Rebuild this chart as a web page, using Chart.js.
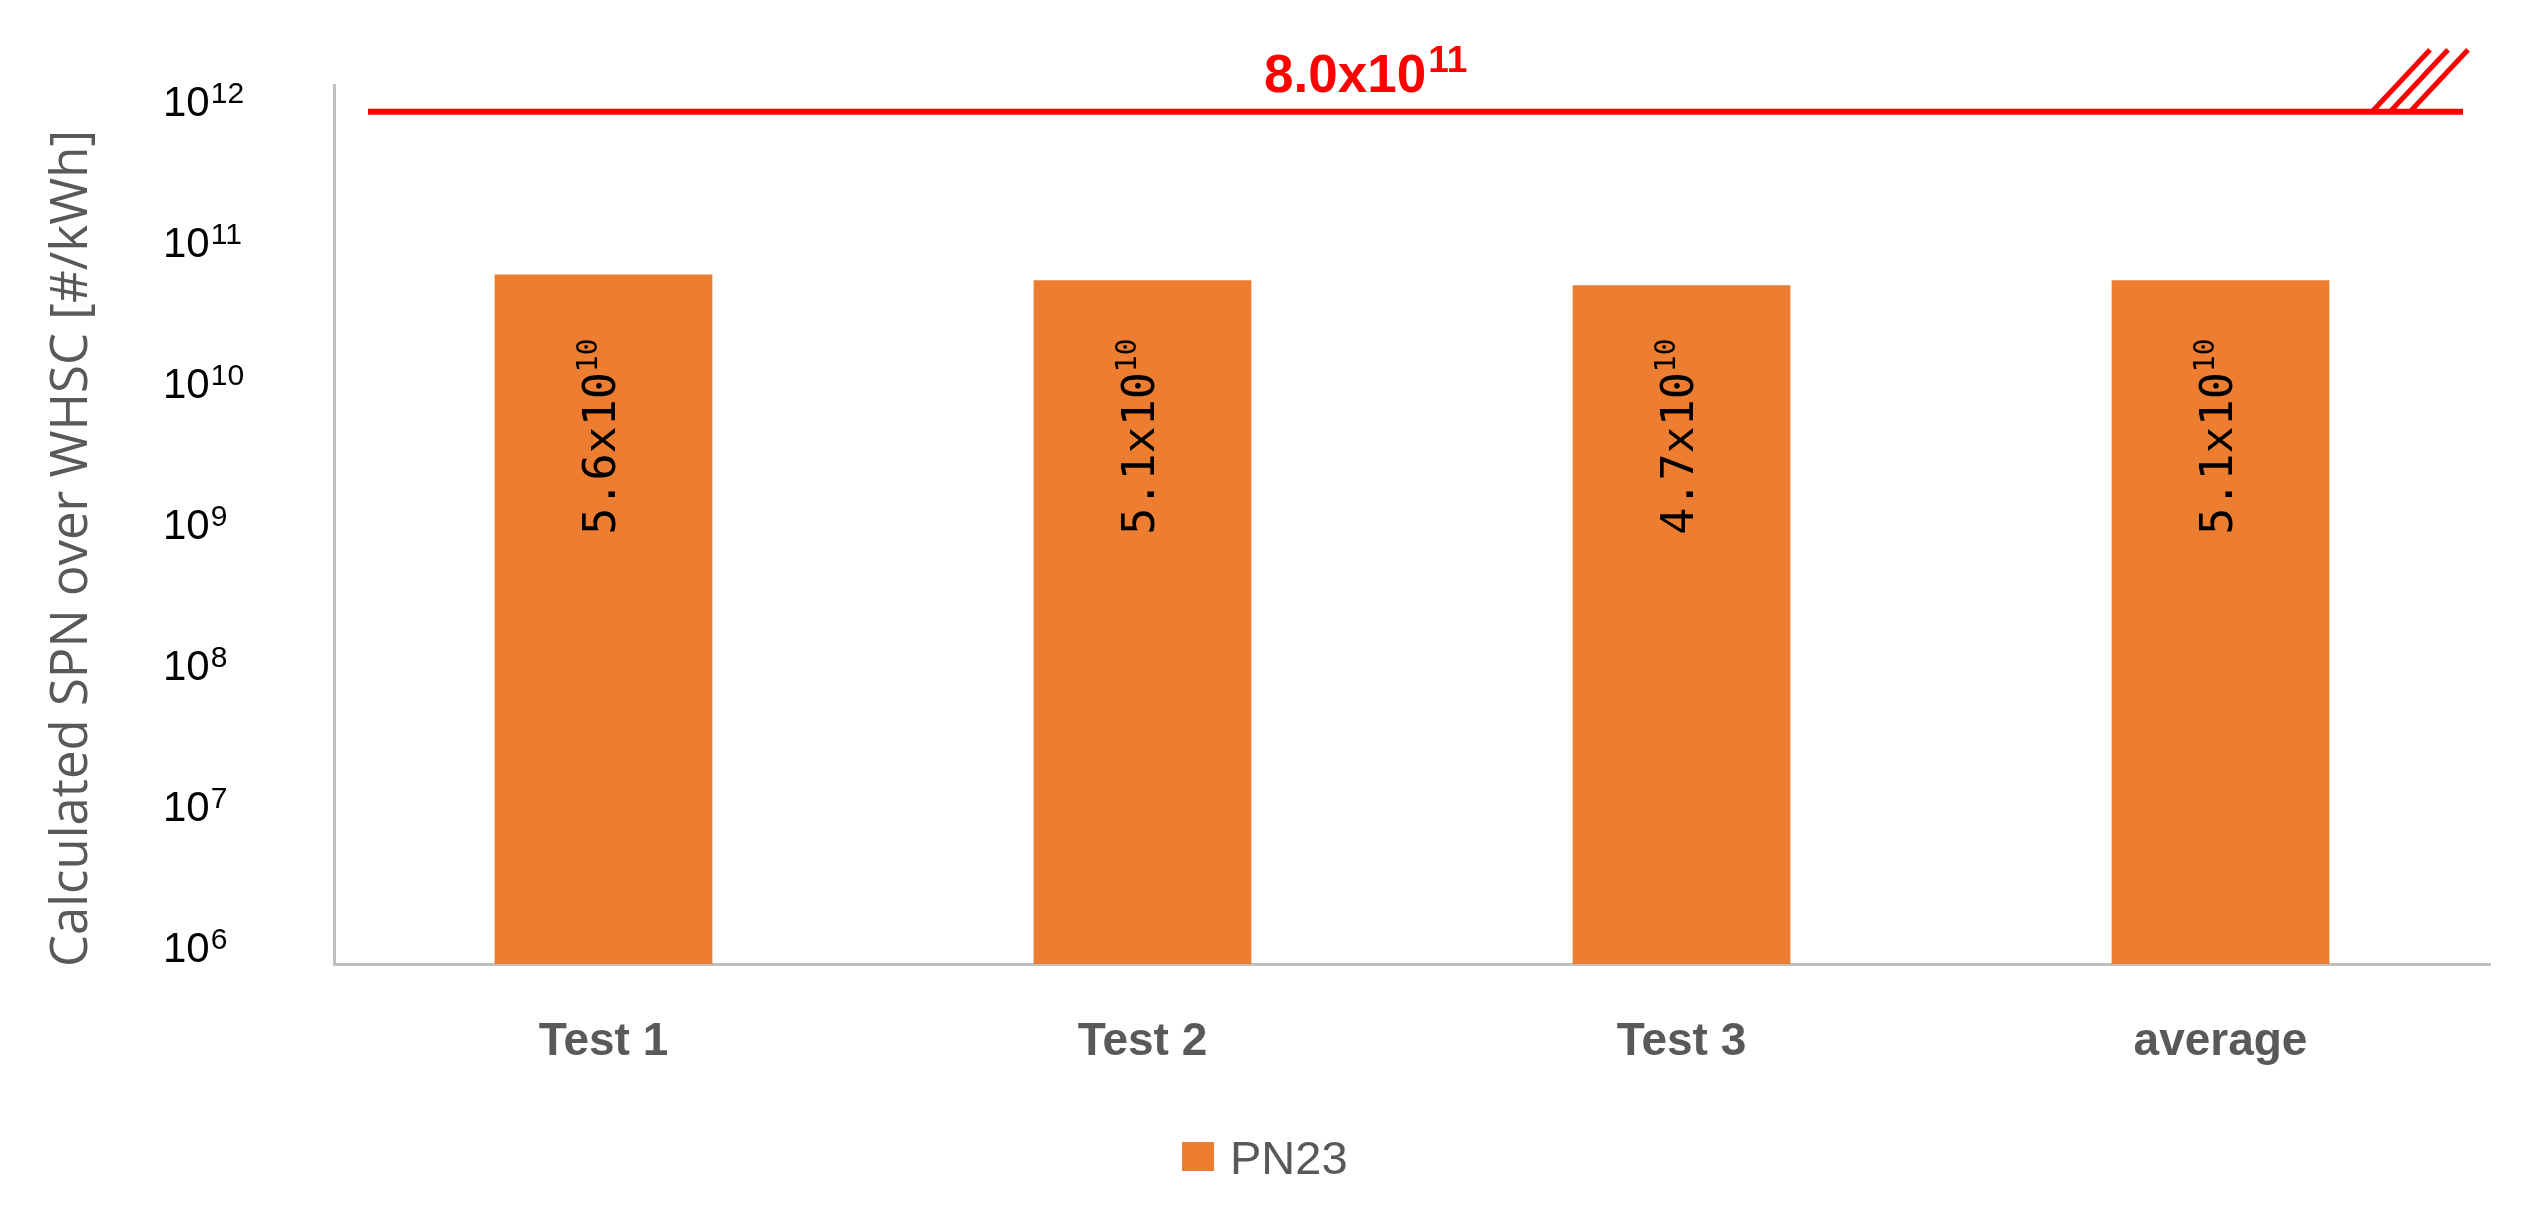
<!DOCTYPE html>
<html>
<head>
<meta charset="utf-8">
<script src="https://cdn.jsdelivr.net/npm/chart.js@4.4.0/dist/chart.umd.min.js"></script>
<style>
  html, body { margin: 0; padding: 0; background: #ffffff; }
  #wrap { width: 2548px; height: 1228px; }
  canvas { display: block; }
</style>
</head>
<body>
<div id="wrap"><canvas id="c" width="2548" height="1228"></canvas></div>
<script>
// ---- data ----
const categories = ['Test 1', 'Test 2', 'Test 3', 'average'];
const seriesName = 'PN23';
const pn23Values = [5.6e10, 5.1e10, 4.7e10, 5.1e10];
const limitValue = 8.0e11;
const yTickExponents = [6, 7, 8, 9, 10, 11, 12];
const yAxisMin = 7.2e5;
const yAxisMax = 1.24e12;
const yAxisTitle = 'Calculated SPN over WHSC [#/kWh]';

// ---- style ----
const barColor = '#ED7D31';
const axisColor = '#BFBFBF';
const textGray = '#595959';
const red = '#FF0000';

function splitExp(v) {
  const [m, e] = v.toExponential(1).split('e');
  return { mant: m, exp: String(parseInt(e, 10)) };
}

const overlay = {
  id: 'overlay',
  afterDraw(chart) {
    const ctx = chart.ctx;
    const ca = chart.chartArea;
    const xs = chart.scales.x;
    const ys = chart.scales.y;
    ctx.save();

    // y tick labels 10^n
    yTickExponents.forEach(e => {
      const y = ys.getPixelForValue(Math.pow(10, e));
      ctx.fillStyle = '#000000';
      ctx.textBaseline = 'alphabetic';
      ctx.textAlign = 'left';
      ctx.font = '42px "Liberation Sans"';
      const base = y + 18;
      ctx.fillText('10', 163, base);
      const w = ctx.measureText('10').width;
      ctx.font = '30px "Liberation Sans"';
      ctx.fillText(String(e), 163 + w + 1, base - 13);
    });

    // y axis title
    ctx.save();
    ctx.translate(87, (ca.top + ca.bottom) / 2 + 24);
    ctx.rotate(-Math.PI / 2);
    ctx.fillStyle = textGray;
    ctx.textAlign = 'center';
    ctx.textBaseline = 'alphabetic';
    ctx.font = '48px "Open Sans"';
    const tw = ctx.measureText(yAxisTitle).width;
    const target = 837;
    const fs = 48 * target / tw;
    ctx.font = fs.toFixed(1) + 'px "Open Sans"';
    ctx.fillText(yAxisTitle, 0, 0);
    ctx.restore();

    // x category labels
    ctx.fillStyle = textGray;
    ctx.font = 'bold 46px "Liberation Sans"';
    ctx.textAlign = 'center';
    ctx.textBaseline = 'alphabetic';
    categories.forEach((c, i) => {
      ctx.fillText(c, xs.getPixelForValue(i), 1055);
    });

    // value labels inside bars (rotated)
    const meta = chart.getDatasetMeta(0);
    pn23Values.forEach((v, i) => {
      const bar = meta.data[i];
      const { mant, exp } = splitExp(v);
      const main = mant + 'x10';
      ctx.save();
      ctx.translate(bar.x + 11, ca.top + (ca.bottom - ca.top) * 0.4);
      ctx.rotate(-Math.PI / 2);
      ctx.fillStyle = '#000000';
      ctx.textBaseline = 'alphabetic';
      ctx.textAlign = 'left';
      ctx.font = '45px "DejaVu Sans Mono"';
      const wm = ctx.measureText(main).width;
      ctx.font = '28px "DejaVu Sans Mono"';
      const we = ctx.measureText(exp).width;
      const total = wm + we;
      ctx.font = '45px "DejaVu Sans Mono"';
      ctx.fillText(main, -total / 2, 0);
      ctx.font = '28px "DejaVu Sans Mono"';
      ctx.fillText(exp, -total / 2 + wm, -18);
      ctx.restore();
    });

    // limit line
    const ly = ys.getPixelForValue(limitValue);
    ctx.strokeStyle = red;
    ctx.lineWidth = 6;
    ctx.lineCap = 'butt';
    ctx.beginPath();
    ctx.moveTo(ca.left + 34, ly);
    ctx.lineTo(ca.right - 27, ly);
    ctx.stroke();
    // hatch marks
    ctx.lineWidth = 5;
    [118, 100, 80].forEach(off => {
      ctx.beginPath();
      ctx.moveTo(ca.right - off, ly);
      ctx.lineTo(ca.right - off + 58, ly - 62);
      ctx.stroke();
    });
    // limit label
    const { mant: lm, exp: le } = splitExp(limitValue);
    const lmain = lm + 'x10';
    ctx.fillStyle = red;
    ctx.textAlign = 'left';
    ctx.textBaseline = 'alphabetic';
    ctx.font = 'bold 53px "Liberation Sans"';
    const lw = ctx.measureText(lmain).width;
    ctx.font = 'bold 37px "Liberation Sans"';
    const lew = ctx.measureText(le).width;
    const lx = ca.left + (ca.right - ca.left) * 0.4785 - (lw + lew + 2) / 2;
    ctx.font = 'bold 53px "Liberation Sans"';
    ctx.fillText(lmain, lx, ly - 20);
    ctx.font = 'bold 37px "Liberation Sans"';
    ctx.fillText(le, lx + lw + 2, ly - 40);

    // legend
    ctx.fillStyle = barColor;
    ctx.fillRect(1182, 1142, 32, 29);
    ctx.fillStyle = textGray;
    ctx.font = '47px "Liberation Sans"';
    ctx.textAlign = 'left';
    ctx.fillText(seriesName, 1230, 1174);

    ctx.restore();
  }
};

new Chart(document.getElementById('c'), {
  type: 'bar',
  data: {
    labels: categories,
    datasets: [{
      label: seriesName,
      data: pn23Values,
      backgroundColor: barColor,
      borderWidth: 0,
      barPercentage: 0.404,
      categoryPercentage: 1.0
    }]
  },
  options: {
    responsive: false,
    animation: false,
    events: [],
    layout: { padding: { left: 334, right: 58, top: 85, bottom: 264 } },
    plugins: { legend: { display: false }, tooltip: { enabled: false } },
    scales: {
      x: {
        grid: { display: false },
        border: { display: true, color: axisColor, width: 3 },
        ticks: { display: false },
        afterFit(s) { s.height = 0; }
      },
      y: {
        type: 'logarithmic',
        min: yAxisMin,
        max: yAxisMax,
        grid: { display: false },
        border: { display: true, color: axisColor, width: 3 },
        ticks: { display: false },
        afterBuildTicks(s) { s.ticks = yTickExponents.map(e => ({ value: Math.pow(10, e) })); },
        afterFit(s) { s.width = 0; }
      }
    }
  },
  plugins: [overlay]
});
</script>
</body>
</html>
